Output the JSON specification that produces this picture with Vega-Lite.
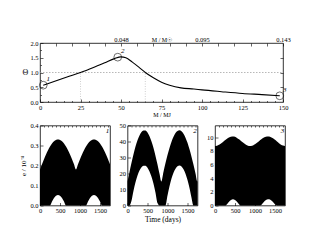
{
  "$schema": "https://vega.github.io/schema/vega-lite/v6.json",
  "bounds": "flush",
  "spacing": 23.5,
  "padding": {"left": 19, "top": 35, "right": 5, "bottom": 5},
  "config": {
    "font": "Liberation Serif",
    "view": {"stroke": "black", "strokeWidth": 0.8},
    "axis": {
      "labelFont": "Liberation Serif", "titleFont": "Liberation Serif",
      "labelFontSize": 6.5, "titleFontSize": 7, "titleFontWeight": "normal",
      "labelColor": "black", "titleColor": "black",
      "domain": false, "grid": false, "tickColor": "black", "tickWidth": 0.6,
      "tickSize": -3, "labelPadding": 5, "labelFlush": false, "labelOverlap": false, "labelBound": false
    },
    "text": {"font": "Liberation Serif", "fontStyle": "italic", "fontSize": 7}
  },
  "datasets": {
    "curve": [
      {"m": 2, "theta": 0.57}, {"m": 10, "theta": 0.72}, {"m": 18, "theta": 0.87}, {"m": 25, "theta": 1.0},
      {"m": 33, "theta": 1.17}, {"m": 40, "theta": 1.33}, {"m": 46, "theta": 1.47}, {"m": 50, "theta": 1.53},
      {"m": 53, "theta": 1.5}, {"m": 57, "theta": 1.35}, {"m": 61, "theta": 1.18}, {"m": 65, "theta": 1.0},
      {"m": 70, "theta": 0.82}, {"m": 75, "theta": 0.67}, {"m": 80, "theta": 0.57}, {"m": 87, "theta": 0.48},
      {"m": 95, "theta": 0.44}, {"m": 100, "theta": 0.41}, {"m": 112, "theta": 0.35}, {"m": 125, "theta": 0.29},
      {"m": 137, "theta": 0.25}, {"m": 148, "theta": 0.21}
    ],
    "marks": [
      {"m": 2, "theta": 0.57, "lab": "1"},
      {"m": 48, "theta": 1.52, "lab": "2"},
      {"m": 148, "theta": 0.21, "lab": "3"}
    ],
    "p1": [
      {"t": 0, "lo": 0, "hi": 0.18}, {"t": 50, "lo": 0, "hi": 0.206}, {"t": 100, "lo": 0, "hi": 0.231},
      {"t": 150, "lo": 0, "hi": 0.255}, {"t": 200, "lo": 0, "hi": 0.276}, {"t": 250, "lo": 0, "hi": 0.295},
      {"t": 300, "lo": 0.02, "hi": 0.31}, {"t": 350, "lo": 0.038, "hi": 0.321}, {"t": 400, "lo": 0.049, "hi": 0.328},
      {"t": 450, "lo": 0.052, "hi": 0.33}, {"t": 500, "lo": 0.049, "hi": 0.328}, {"t": 550, "lo": 0.038, "hi": 0.321},
      {"t": 600, "lo": 0.02, "hi": 0.31}, {"t": 650, "lo": 0, "hi": 0.295}, {"t": 700, "lo": 0, "hi": 0.276},
      {"t": 750, "lo": 0, "hi": 0.255}, {"t": 800, "lo": 0, "hi": 0.231}, {"t": 850, "lo": 0, "hi": 0.206},
      {"t": 900, "lo": 0, "hi": 0.18}, {"t": 950, "lo": 0, "hi": 0.206}, {"t": 1000, "lo": 0, "hi": 0.231},
      {"t": 1050, "lo": 0, "hi": 0.255}, {"t": 1100, "lo": 0, "hi": 0.276}, {"t": 1150, "lo": 0, "hi": 0.295},
      {"t": 1200, "lo": 0.02, "hi": 0.31}, {"t": 1250, "lo": 0.038, "hi": 0.321}, {"t": 1300, "lo": 0.049, "hi": 0.328},
      {"t": 1350, "lo": 0.052, "hi": 0.33}, {"t": 1400, "lo": 0.049, "hi": 0.328}, {"t": 1450, "lo": 0.038, "hi": 0.321},
      {"t": 1500, "lo": 0.02, "hi": 0.31}, {"t": 1550, "lo": 0, "hi": 0.295}, {"t": 1600, "lo": 0, "hi": 0.276},
      {"t": 1650, "lo": 0, "hi": 0.255}, {"t": 1700, "lo": 0, "hi": 0.231}, {"t": 1750, "lo": 0, "hi": 0.206}
    ],
    "p2": [
      {"t": 0, "lo": 0, "hi": 15}, {"t": 50, "lo": 0, "hi": 21.0}, {"t": 100, "lo": 2.9, "hi": 26.7},
      {"t": 150, "lo": 9.2, "hi": 32.0}, {"t": 200, "lo": 14.5, "hi": 36.8}, {"t": 250, "lo": 18.8, "hi": 40.8},
      {"t": 300, "lo": 21.9, "hi": 43.8}, {"t": 350, "lo": 23.9, "hi": 45.9}, {"t": 400, "lo": 24.9, "hi": 46.9},
      {"t": 450, "lo": 24.8, "hi": 46.8}, {"t": 500, "lo": 23.6, "hi": 45.6}, {"t": 550, "lo": 21.3, "hi": 43.3},
      {"t": 600, "lo": 18.0, "hi": 40.0}, {"t": 650, "lo": 13.6, "hi": 35.9}, {"t": 700, "lo": 8.0, "hi": 31.0},
      {"t": 750, "lo": 1.5, "hi": 25.6}, {"t": 800, "lo": 0, "hi": 19.8}, {"t": 845, "lo": 0, "hi": 15},
      {"t": 900, "lo": 0, "hi": 21.1}, {"t": 950, "lo": 0, "hi": 26.5},
      {"t": 1000, "lo": 6.2, "hi": 31.5}, {"t": 1050, "lo": 12.0, "hi": 36.0}, {"t": 1100, "lo": 16.8, "hi": 39.9},
      {"t": 1150, "lo": 20.5, "hi": 43.0}, {"t": 1200, "lo": 23.0, "hi": 45.3}, {"t": 1250, "lo": 24.6, "hi": 46.6},
      {"t": 1300, "lo": 25.0, "hi": 47.0}, {"t": 1350, "lo": 24.3, "hi": 46.4}, {"t": 1400, "lo": 22.6, "hi": 44.9},
      {"t": 1450, "lo": 19.8, "hi": 42.4}, {"t": 1500, "lo": 15.9, "hi": 39.2}, {"t": 1550, "lo": 10.9, "hi": 35.1},
      {"t": 1600, "lo": 4.9, "hi": 30.5}, {"t": 1650, "lo": 0, "hi": 25.4}, {"t": 1700, "lo": 0, "hi": 20.0},
      {"t": 1745, "lo": 0, "hi": 15}, {"t": 1750, "lo": 0, "hi": 15.6}
    ],
    "p3": [
      {"t": 0, "lo": 0, "hi": 8.7}, {"t": 50, "lo": 0, "hi": 8.74}, {"t": 100, "lo": 0, "hi": 8.87},
      {"t": 150, "lo": 0, "hi": 9.06}, {"t": 200, "lo": 0, "hi": 9.3}, {"t": 250, "lo": 0, "hi": 9.55},
      {"t": 300, "lo": 0.2, "hi": 9.78}, {"t": 350, "lo": 0.55, "hi": 9.96}, {"t": 400, "lo": 0.82, "hi": 10.07},
      {"t": 450, "lo": 0.9, "hi": 10.1}, {"t": 500, "lo": 0.82, "hi": 10.04}, {"t": 550, "lo": 0.55, "hi": 9.89},
      {"t": 600, "lo": 0.2, "hi": 9.69}, {"t": 650, "lo": 0, "hi": 9.45}, {"t": 700, "lo": 0, "hi": 9.2},
      {"t": 750, "lo": 0, "hi": 8.98}, {"t": 800, "lo": 0, "hi": 8.81}, {"t": 850, "lo": 0, "hi": 8.72},
      {"t": 900, "lo": 0, "hi": 8.71}, {"t": 950, "lo": 0, "hi": 8.79}, {"t": 1000, "lo": 0, "hi": 8.94},
      {"t": 1050, "lo": 0, "hi": 9.16}, {"t": 1100, "lo": 0, "hi": 9.4}, {"t": 1150, "lo": 0.05, "hi": 9.65},
      {"t": 1200, "lo": 0.35, "hi": 9.86}, {"t": 1250, "lo": 0.68, "hi": 10.01}, {"t": 1300, "lo": 0.86, "hi": 10.09},
      {"t": 1350, "lo": 0.9, "hi": 10.08}, {"t": 1400, "lo": 0.78, "hi": 9.99}, {"t": 1450, "lo": 0.5, "hi": 9.82},
      {"t": 1500, "lo": 0.18, "hi": 9.6}, {"t": 1550, "lo": 0, "hi": 9.35}, {"t": 1600, "lo": 0, "hi": 9.11},
      {"t": 1650, "lo": 0, "hi": 8.89}, {"t": 1700, "lo": 0, "hi": 8.76}, {"t": 1750, "lo": 0, "hi": 8.7}
    ]
  },
  "vconcat": [
    {
      "width": 243, "height": 59,
      "resolve": {"axis": {"x": "independent", "y": "independent"}},
      "layer": [
        {
          "data": {"values": [{"m": 0, "m2": 150, "theta": 1}]},
          "mark": {"type": "rule", "strokeDash": [1.5, 1.5], "color": "#999", "strokeWidth": 0.7},
          "encoding": {
            "x": {"field": "m", "type": "quantitative", "scale": {"domain": [0, 150]}, "axis": null},
            "x2": {"field": "m2"},
            "y": {"field": "theta", "type": "quantitative", "scale": {"domain": [0, 2]}, "axis": null}
          }
        },
        {
          "data": {"values": [{"m": 25, "theta": 0, "theta2": 1}, {"m": 65, "theta": 0, "theta2": 1}]},
          "mark": {"type": "rule", "strokeDash": [1, 1.5], "color": "#bbb", "strokeWidth": 0.7},
          "encoding": {
            "x": {"field": "m", "type": "quantitative", "scale": {"domain": [0, 150]}, "axis": null},
            "y": {"field": "theta", "type": "quantitative", "scale": {"domain": [0, 2]}, "axis": null},
            "y2": {"field": "theta2"}
          }
        },
        {
          "data": {"name": "curve"},
          "mark": {"type": "line", "color": "black", "strokeWidth": 1.1, "interpolate": "monotone"},
          "encoding": {
            "x": {"field": "m", "type": "quantitative", "scale": {"domain": [0, 150]},
                  "axis": {"values": [0, 25, 50, 75, 100, 125, 150], "title": "M / MJ", "titlePadding": 1, "titleFontSize": 6}},
            "y": {"field": "theta", "type": "quantitative", "scale": {"domain": [0, 2]},
                  "axis": {"values": [0, 0.5, 1, 1.5, 2], "title": "Θ", "titleAngle": 0, "titleBaseline": "middle", "titleAlign": "center", "titlePadding": 5, "titleFontSize": 8}}
          }
        },
        {
          "data": {"name": "marks"},
          "mark": {"type": "point", "filled": false, "color": "black", "size": 60, "strokeWidth": 0.8},
          "encoding": {
            "x": {"field": "m", "type": "quantitative", "scale": {"domain": [0, 150]}, "axis": null},
            "y": {"field": "theta", "type": "quantitative", "scale": {"domain": [0, 2]}, "axis": null}
          }
        },
        {
          "data": {"name": "marks"},
          "mark": {"type": "text", "dx": 5, "dy": -6, "color": "black"},
          "encoding": {
            "x": {"field": "m", "type": "quantitative", "scale": {"domain": [0, 150]}, "axis": null},
            "y": {"field": "theta", "type": "quantitative", "scale": {"domain": [0, 2]}, "axis": null},
            "text": {"field": "lab"}
          }
        },
        {
          "data": {"values": [{"m": 0, "theta": 0}]},
          "mark": {"type": "point", "opacity": 0},
          "encoding": {
            "x": {"field": "m", "type": "quantitative", "scale": {"domain": [0, 150]},
                  "axis": {"orient": "top", "values": [10, 20, 30, 40, 50, 60, 70, 80, 90, 100, 110, 120, 130, 140, 150],
                           "labelExpr": "datum.value == 50 ? '0.048' : datum.value == 100 ? '0.095' : datum.value == 150 ? '0.143' : ''",
                           "title": "M / M☉", "titleFontSize": 6, "titleY": -1, "titleBaseline": "bottom", "labelPadding": 4}},
            "y": {"field": "theta", "type": "quantitative", "scale": {"domain": [0, 2]},
                  "axis": {"orient": "right", "values": [0.5, 1, 1.5], "labels": false, "title": null}}
          }
        },
        {
          "data": {"values": [{"m": 0, "theta": 0}]},
          "mark": {"type": "point", "opacity": 0},
          "encoding": {
            "x": {"field": "m", "type": "quantitative", "scale": {"domain": [0, 150]},
                  "axis": {"values": [5, 10, 15, 20, 30, 35, 40, 45, 55, 60, 65, 70, 80, 85, 90, 95, 105, 110, 115, 120, 130, 135, 140, 145], "labels": false, "tickSize": -1.5, "title": null}},
            "y": {"field": "theta", "type": "quantitative", "scale": {"domain": [0, 2]},
                  "axis": {"values": [0.25, 0.75, 1.25, 1.75], "labels": false, "tickSize": -1.5, "title": null}}
          }
        }
      ]
    },
    {
      "hconcat": [
        {
          "width": 70, "height": 80,
          "resolve": {"axis": {"x": "independent", "y": "independent"}},
          "layer": [
            {
              "data": {"name": "p1"},
              "mark": {"type": "area", "color": "black", "interpolate": "monotone"},
              "encoding": {
                "x": {"field": "t", "type": "quantitative", "scale": {"domain": [0, 1750]}, "axis": {"values": [0, 500, 1000, 1500], "format": "d", "title": null}},
                "y": {"field": "lo", "type": "quantitative", "scale": {"domain": [0, 0.4]}, "axis": {"values": [0, 0.1, 0.2, 0.3, 0.4], "title": "e / 10⁻⁴", "titlePadding": 3}},
                "y2": {"field": "hi"}
              }
            },
            {
              "data": {"values": [{"t": 1730, "lo": 0.392, "lab": "1"}]},
              "mark": {"type": "text", "align": "right", "baseline": "top", "color": "black"},
              "encoding": {
                "x": {"field": "t", "type": "quantitative", "scale": {"domain": [0, 1750]}, "axis": null},
                "y": {"field": "lo", "type": "quantitative", "scale": {"domain": [0, 0.4]}, "axis": null},
                "text": {"field": "lab"}
              }
            },
            {
              "data": {"values": [{"t": 0}]},
              "mark": {"type": "point", "opacity": 0},
              "encoding": {
                "x": {"field": "t", "type": "quantitative", "scale": {"domain": [0, 1750]},
                      "axis": {"orient": "top", "values": [100, 200, 300, 400, 500, 600, 700, 800, 900, 1000, 1100, 1200, 1300, 1400, 1500, 1600, 1700], "labels": false, "tickSize": -1.5, "title": null}}
              }
            }
          ]
        },
        {
          "width": 70, "height": 80,
          "resolve": {"axis": {"x": "independent", "y": "independent"}},
          "layer": [
            {
              "data": {"name": "p2"},
              "mark": {"type": "area", "color": "black", "interpolate": "monotone"},
              "encoding": {
                "x": {"field": "t", "type": "quantitative", "scale": {"domain": [0, 1750]}, "axis": {"values": [0, 500, 1000, 1500], "format": "d", "title": "Time (days)", "titlePadding": 1, "titleFontSize": 7.5}},
                "y": {"field": "lo", "type": "quantitative", "scale": {"domain": [0, 50]}, "axis": {"values": [0, 10, 20, 30, 40, 50], "title": null}},
                "y2": {"field": "hi"}
              }
            },
            {
              "data": {"values": [{"t": 1730, "lo": 49, "lab": "2"}]},
              "mark": {"type": "text", "align": "right", "baseline": "top", "color": "black"},
              "encoding": {
                "x": {"field": "t", "type": "quantitative", "scale": {"domain": [0, 1750]}, "axis": null},
                "y": {"field": "lo", "type": "quantitative", "scale": {"domain": [0, 50]}, "axis": null},
                "text": {"field": "lab"}
              }
            },
            {
              "data": {"values": [{"t": 0}]},
              "mark": {"type": "point", "opacity": 0},
              "encoding": {
                "x": {"field": "t", "type": "quantitative", "scale": {"domain": [0, 1750]},
                      "axis": {"orient": "top", "values": [100, 200, 300, 400, 500, 600, 700, 800, 900, 1000, 1100, 1200, 1300, 1400, 1500, 1600, 1700], "labels": false, "tickSize": -1.5, "title": null}}
              }
            }
          ]
        },
        {
          "width": 70, "height": 80,
          "resolve": {"axis": {"x": "independent", "y": "independent"}},
          "layer": [
            {
              "data": {"name": "p3"},
              "mark": {"type": "area", "color": "black", "interpolate": "monotone"},
              "encoding": {
                "x": {"field": "t", "type": "quantitative", "scale": {"domain": [0, 1750]}, "axis": {"values": [0, 500, 1000, 1500], "format": "d", "title": null}},
                "y": {"field": "lo", "type": "quantitative", "scale": {"domain": [0, 11.7]}, "axis": {"values": [0, 2, 4, 6, 8, 10], "title": null}},
                "y2": {"field": "hi"}
              }
            },
            {
              "data": {"values": [{"t": 1730, "lo": 11.5, "lab": "3"}]},
              "mark": {"type": "text", "align": "right", "baseline": "top", "color": "black"},
              "encoding": {
                "x": {"field": "t", "type": "quantitative", "scale": {"domain": [0, 1750]}, "axis": null},
                "y": {"field": "lo", "type": "quantitative", "scale": {"domain": [0, 11.7]}, "axis": null},
                "text": {"field": "lab"}
              }
            },
            {
              "data": {"values": [{"t": 0}]},
              "mark": {"type": "point", "opacity": 0},
              "encoding": {
                "x": {"field": "t", "type": "quantitative", "scale": {"domain": [0, 1750]},
                      "axis": {"orient": "top", "values": [100, 200, 300, 400, 500, 600, 700, 800, 900, 1000, 1100, 1200, 1300, 1400, 1500, 1600, 1700], "labels": false, "tickSize": -1.5, "title": null}}
              }
            }
          ]
        }
      ],
      "spacing": 17.5,
      "bounds": "flush"
    }
  ]
}
